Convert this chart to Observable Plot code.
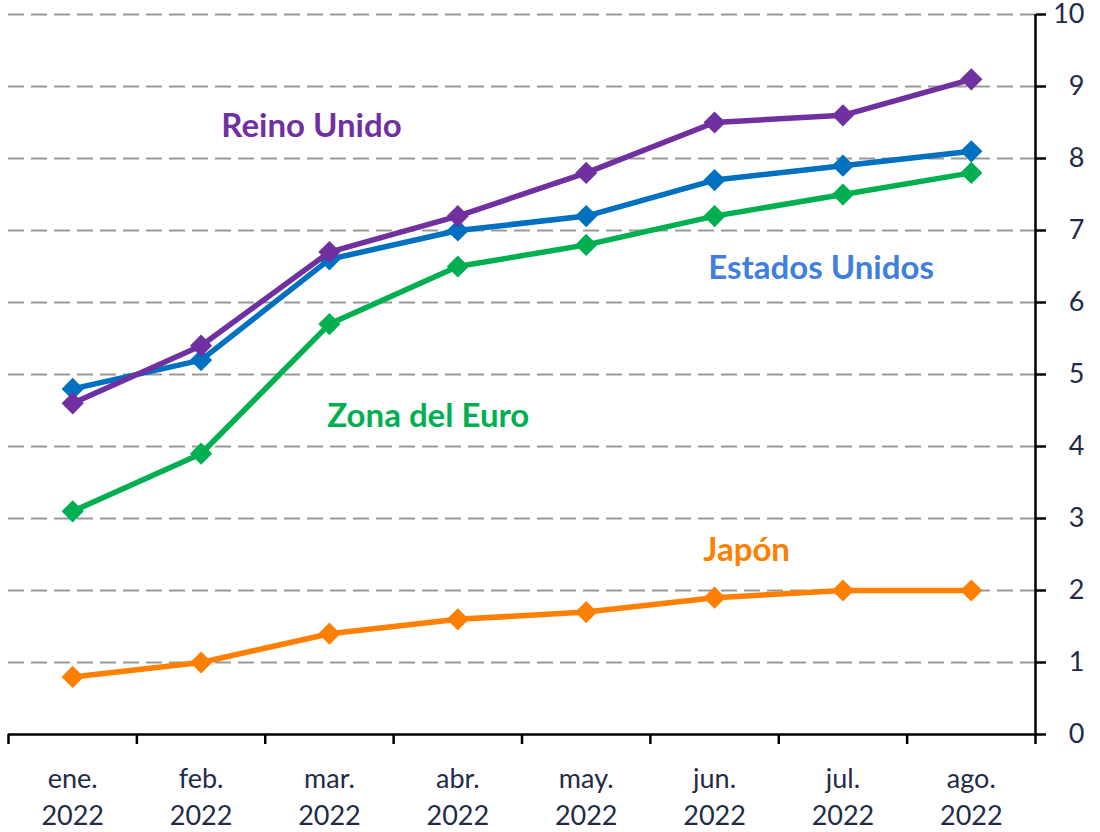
<!DOCTYPE html>
<html>
<head>
<meta charset="utf-8">
<script src="https://cdn.jsdelivr.net/npm/d3@7"></script>
<script src="https://cdn.jsdelivr.net/npm/@observablehq/plot@0.6"></script>
<style>
  html, body { margin: 0; padding: 0; background: #fff; }
  #chart { width: 1100px; height: 832px; }
</style>
</head>
<body>
<div id="chart"></div>
<script>
// Categories
const months = ["ene.", "feb.", "mar.", "abr.", "may.", "jun.", "jul.", "ago."];
const year = "2022";

// Series values
const reinoUnido    = [4.6, 5.4, 6.7, 7.2, 7.8, 8.5, 8.6, 9.1];
const estadosUnidos = [4.8, 5.2, 6.6, 7.0, 7.2, 7.7, 7.9, 8.1];
const zonaEuro      = [3.1, 3.9, 5.7, 6.5, 6.8, 7.2, 7.5, 7.8];
const japon         = [0.8, 1.0, 1.4, 1.6, 1.7, 1.9, 2.0, 2.0];

// Y tick values
const yTicks = [0, 1, 2, 3, 4, 5, 6, 7, 8, 9, 10];

const series = [
  {name: "Japón",          values: japon,         color: "#FF7F00", label: [5.25, 2.56], labelColor: "#FF7F00"},
  {name: "Zona del Euro",  values: zonaEuro,      color: "#00B050", label: [2.77, 4.42], labelColor: "#00B050"},
  {name: "Estados Unidos", values: estadosUnidos, color: "#0070C0", label: [5.83, 6.47], labelColor: "#4080DC"},
  {name: "Reino Unido",    values: reinoUnido,    color: "#7030A0", label: [1.86, 8.44], labelColor: "#7030A0"}
];

const idx = months.map((_, i) => i);
const boundaries = d3.range(0, months.length + 1).map(i => i - 0.5);
const font = "Lato, 'Open Sans', sans-serif";
const navy = "#1F2B47";

const marks = [
  Plot.gridY(yTicks.filter(d => d > 0), {stroke: "#999", strokeOpacity: 1, strokeWidth: 2, strokeDasharray: "16,7"}),
  Plot.ruleY([0], {stroke: "#000", strokeWidth: 2.5}),
  Plot.ruleX([months.length - 0.5], {stroke: "#000", strokeWidth: 2.5}),
  Plot.axisX({ticks: boundaries, text: null, tickSize: 10, stroke: "#000", strokeWidth: 2.5, label: null}),
  Plot.axisX({ticks: idx, tickSize: 0, tickPadding: 27, tickFormat: i => months[i] + "\n" + year,
              fontSize: 27, fill: navy, lineHeight: 1.38, lineAnchor: "top", fontFamily: font, label: null}),
  Plot.axisY({anchor: "right", ticks: yTicks, text: null, tickSize: 10, stroke: "#000", strokeWidth: 2.5, label: null}),
  Plot.axisY({anchor: "right", ticks: yTicks, tickSize: 0, tickPadding: 13, label: null,
              fontSize: 27, fill: navy, textAnchor: "end", dx: 36, fontFamily: font})
];

for (const s of series) {
  const data = s.values.map((v, i) => ({i, v}));
  marks.push(Plot.line(data, {x: "i", y: "v", stroke: s.color, strokeWidth: 5.5}));
  marks.push(Plot.dot(data, {x: "i", y: "v", symbol: "diamond2", r: 10, fill: s.color, stroke: "none"}));
  marks.push(Plot.text([s], {x: () => s.label[0], y: () => s.label[1], text: d => d.name,
    fill: s.labelColor, fontSize: 33, fontWeight: "bold", fontFamily: font}));
}

const chart = Plot.plot({
  width: 1100,
  height: 832,
  marginLeft: 8,
  marginRight: 65,
  marginTop: 14,
  marginBottom: 98,
  style: {background: "#fff", fontFamily: font},
  x: {type: "linear", domain: [-0.5, months.length - 0.5]},
  y: {domain: [0, 10]},
  marks
});
document.getElementById("chart").appendChild(chart);
</script>
</body>
</html>
